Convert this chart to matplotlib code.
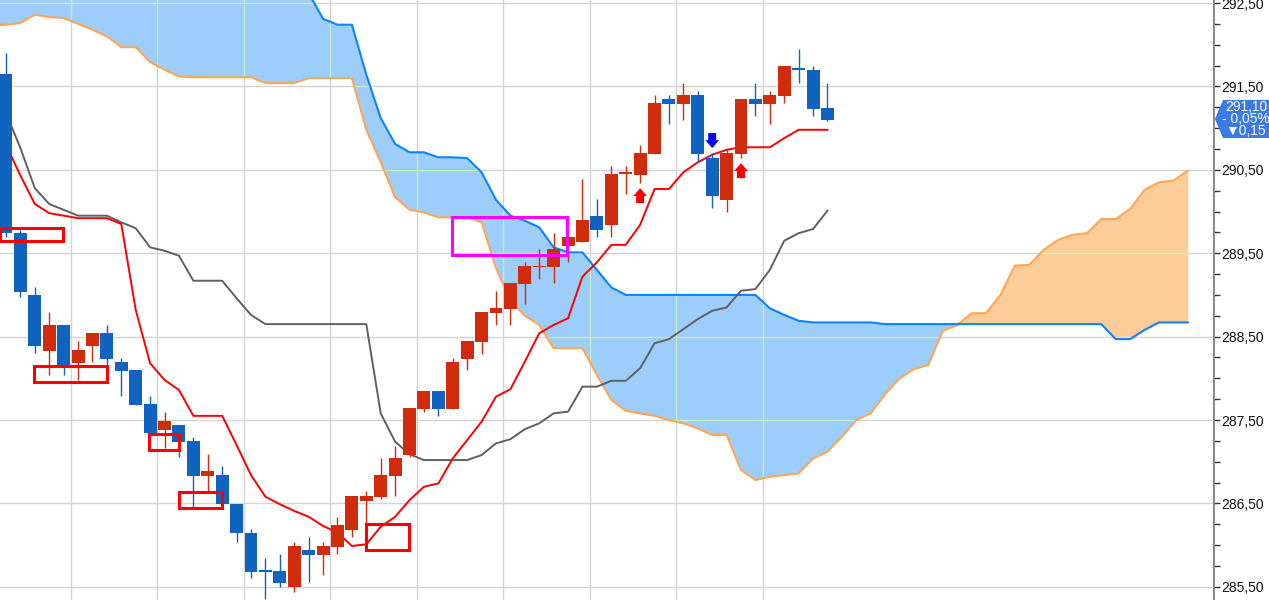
import numpy as np
import matplotlib
matplotlib.use("Agg")
import matplotlib.pyplot as plt
from matplotlib.patches import Rectangle, FancyArrow, Polygon
from matplotlib.path import Path
from matplotlib.ticker import MultipleLocator, FuncFormatter

plt.rcParams['font.family'] = ['Liberation Sans Narrow', 'Liberation Sans', 'DejaVu Sans']

# 캔들 데이터 (시가, 고가, 저가, 종가)
opens = [291.65, 289.74, 289.00, 288.33, 288.64, 288.18, 288.39, 288.54, 288.20, 288.10,
         287.69, 287.38, 287.44, 287.25, 286.83, 286.84, 286.49, 286.15, 285.69, 285.69,
         285.50, 285.94, 285.88, 285.98, 286.18, 286.53, 286.58, 286.83, 287.08, 287.63,
         287.85, 287.63, 288.23, 288.44, 288.78, 288.83, 289.13, 289.33, 289.33, 289.59,
         289.63, 289.95, 289.84, 290.45, 290.44, 290.69, 291.35, 291.29, 291.40, 290.64,
         290.14, 290.69, 291.35, 291.29, 291.38, 291.71, 291.70, 291.24]
highs = [291.90, 289.78, 289.09, 288.79, 288.64, 288.45, 288.54, 288.64, 288.24, 288.10,
         287.79, 287.60, 287.44, 287.30, 287.09, 286.95, 286.49, 286.19, 285.85, 285.89,
         286.04, 286.10, 286.04, 286.34, 286.59, 286.65, 287.04, 287.19, 287.64, 287.85,
         287.85, 288.24, 288.45, 288.80, 289.05, 289.14, 289.39, 289.55, 289.74, 289.69,
         290.39, 290.15, 290.55, 290.55, 290.80, 291.40, 291.40, 291.54, 291.45, 290.70,
         290.75, 291.35, 291.54, 291.45, 291.74, 291.95, 291.74, 291.54]
lows = [289.69, 288.97, 288.30, 288.04, 288.04, 287.98, 288.20, 288.16, 287.79, 287.68,
        287.34, 287.16, 287.06, 286.46, 286.64, 286.49, 286.04, 285.61, 285.35, 285.50,
        285.44, 285.56, 285.64, 285.89, 286.10, 285.98, 286.55, 286.59, 287.06, 287.60,
        287.55, 287.63, 288.10, 288.29, 288.64, 288.64, 288.89, 289.19, 289.14, 289.39,
        289.63, 289.69, 289.69, 290.21, 290.34, 290.69, 291.05, 291.10, 290.59, 290.04,
        289.99, 290.64, 291.14, 291.05, 291.30, 291.54, 291.14, 291.09]
closes = [289.74, 289.03, 288.39, 288.64, 288.16, 288.34, 288.54, 288.23, 288.09, 287.68,
          287.34, 287.49, 287.24, 286.83, 286.89, 286.49, 286.15, 285.68, 285.68, 285.55,
          285.99, 285.88, 285.99, 286.24, 286.59, 286.59, 286.84, 287.04, 287.64, 287.85,
          287.63, 288.20, 288.45, 288.80, 288.84, 289.14, 289.35, 289.35, 289.55, 289.69,
          289.90, 289.78, 290.45, 290.46, 290.70, 291.30, 291.29, 291.40, 290.69, 290.19,
          290.70, 291.35, 291.29, 291.40, 291.74, 291.70, 291.23, 291.10]

# 전환선 / 기준선
tenkan = [290.80, 290.43, 290.09, 289.98, 289.95, 289.92, 289.92, 289.92, 289.85, 288.82,
          288.18, 287.98, 287.86, 287.55, 287.55, 287.55, 287.20, 286.84, 286.58, 286.49,
          286.41, 286.34, 286.23, 286.15, 285.99, 286.01, 286.22, 286.34, 286.54, 286.70,
          286.74, 287.04, 287.26, 287.48, 287.78, 287.87, 288.20, 288.54, 288.64, 288.72,
          289.22, 289.39, 289.60, 289.60, 289.84, 290.27, 290.27, 290.47, 290.59, 290.68,
          290.74, 290.77, 290.77, 290.77, 290.88, 290.98, 290.98, 290.98]
kijun = [291.18, 290.76, 290.28, 290.09, 290.02, 289.95, 289.95, 289.95, 289.87, 289.80,
         289.57, 289.53, 289.47, 289.17, 289.17, 289.17, 288.96, 288.76, 288.65, 288.65,
         288.65, 288.65, 288.65, 288.65, 288.65, 288.65, 287.58, 287.24, 287.09, 287.02,
         287.02, 287.02, 287.02, 287.08, 287.22, 287.27, 287.39, 287.46, 287.58, 287.60,
         287.90, 287.90, 287.97, 287.97, 288.12, 288.42, 288.47, 288.59, 288.71, 288.81,
         288.85, 289.05, 289.07, 289.30, 289.65, 289.74, 289.79, 290.01]

# 선행스팬1 / 선행스팬2 (첫 값은 첫 봉 하나 앞)
span_a = [293.90,
          293.90, 293.90, 293.80, 293.80, 293.70, 293.60, 293.60, 293.50, 293.40, 293.40,
          293.30, 293.20, 293.20, 293.10, 293.00, 293.00, 292.90, 292.90, 292.80, 292.80,
          292.70, 292.62, 292.31, 292.24, 292.24, 291.64, 291.12, 290.81, 290.71, 290.71,
          290.65, 290.65, 290.64, 290.47, 290.14, 289.95, 289.89, 289.81, 289.57, 289.51,
          289.51, 289.30, 289.09, 289.00, 289.00, 289.00, 289.00, 289.00, 289.00, 289.00,
          289.00, 289.00, 289.00, 288.84, 288.76, 288.69, 288.67, 288.67, 288.67, 288.67,
          288.67, 288.65, 288.65, 288.65, 288.65, 288.65, 288.65, 288.65, 288.65, 288.65,
          288.65, 288.65, 288.65, 288.65, 288.65, 288.65, 288.65, 288.47, 288.47, 288.58,
          288.67, 288.67, 288.67]
span_b = [292.23,
          292.24, 292.26, 292.36, 292.33, 292.32, 292.25, 292.18, 292.10, 291.97, 291.97,
          291.79, 291.70, 291.62, 291.61, 291.61, 291.61, 291.61, 291.61, 291.54, 291.54,
          291.54, 291.60, 291.60, 291.60, 291.60, 290.98, 290.59, 290.17, 290.02, 289.99,
          289.93, 289.93, 289.93, 289.87, 289.32, 288.94, 288.75, 288.64, 288.36, 288.36,
          288.36, 288.04, 287.74, 287.61, 287.58, 287.55, 287.50, 287.46, 287.40, 287.32,
          287.32, 286.90, 286.78, 286.82, 286.84, 286.86, 287.04, 287.12, 287.30, 287.50,
          287.58, 287.81, 288.00, 288.11, 288.16, 288.57, 288.64, 288.78, 288.78, 289.00,
          289.35, 289.36, 289.54, 289.66, 289.72, 289.74, 289.91, 289.91, 290.03, 290.26,
          290.35, 290.37, 290.49]

price_ticks = [285.5, 286.5, 287.5, 288.5, 289.5, 290.5, 291.5, 292.5]
last_price = "291,10"
change_pct = "- 0,05%"
change_abs = "▼0,15"

# 표시 박스 (x0, x1, 하단, 상단)
red_boxes = [(-0.42, 3.96, 289.65, 289.80), (1.94, 7.01, 287.96, 288.15),
             (9.93, 12.01, 287.14, 287.33), (12.01, 15.0, 286.45, 286.64),
             (25.0, 27.99, 285.94, 286.25)]
magenta_box = (30.97, 38.96, 289.48, 289.93)
# 신호 화살표 (봉 번호, 꼬리, 머리, 색)
signals = [(44, 290.10, 290.28, '#ff0000'), (51, 290.40, 290.58, '#ff0000'),
           (49, 290.94, 290.76, '#0000ff')]

W, H = 1269, 600
fig = plt.figure(figsize=(W / 100, H / 100), dpi=100)
ax = fig.add_axes([0, 0, 1214 / W, 1])
ax.set_xlim(-0.417, 83.82)
ax.set_ylim(285.342, 292.536)

# 격자
grid_x = np.arange(4.5, 53, 6)
for y in price_ticks:
    ax.axhline(y, color='#d4d4d4', lw=1, zorder=0)
for x in grid_x:
    ax.axvline(x, color='#d4d4d4', lw=1, zorder=0)

# 구름대
xc = np.arange(len(span_a)) - 1
a = np.array(span_a)
b = np.array(span_b)
blue_fill = ax.fill_between(xc, a, b, where=a >= b, interpolate=True,
                            color='#9dcefb', lw=0, zorder=1)
orange_fill = ax.fill_between(xc, a, b, where=b > a, interpolate=True,
                              color='#fecc98', lw=0, zorder=1)
for fill, tint in ((blue_fill, '#c2ecc6'), (orange_fill, '#e6ecb6')):
    paths = fill.get_paths()
    if not paths:
        continue
    clip = Path.make_compound_path(*paths)
    for y in price_ticks:
        ln = ax.axhline(y, color=tint, lw=1, zorder=1.5)
        ln.set_clip_path(clip, ax.transData)
    for x in grid_x:
        ln = ax.axvline(x, color=tint, lw=1, zorder=1.5)
        ln.set_clip_path(clip, ax.transData)

ax.plot(xc, span_b, color='#ffa656', lw=1.5, zorder=2)
ax.plot(xc, span_a, color='#0a84ff', lw=1.5, zorder=2)

# 전환선, 기준선
idx = np.arange(len(opens))
ax.plot(idx, kijun, color='#606060', lw=1.4, zorder=3)
ax.plot(idx, tenkan, color='#ff0000', lw=1.4, zorder=3)

# 캔들
o = np.array(opens)
c = np.array(closes)
colors = np.where(c >= o, '#d02c0c', '#1063bf')
body = np.maximum(np.abs(c - o), 0.02)
ax.vlines(idx, lows, highs, colors=colors, lw=1.0, zorder=4)
ax.bar(idx, body, bottom=np.minimum(o, c), width=0.9, color=colors, lw=0, zorder=4.1)

# 표시
for x0, x1, y0, y1 in red_boxes:
    ax.add_patch(Rectangle((x0, y0), x1 - x0, y1 - y0, fill=False,
                           ec='#ff0000', lw=2.2, zorder=6))
x0, x1, y0, y1 = magenta_box
ax.add_patch(Rectangle((x0, y0), x1 - x0, y1 - y0, fill=False,
                       ec='#ff00ff', lw=2.2, zorder=6))
for i, tail, tip, col in signals:
    ax.add_patch(FancyArrow(i, tail, 0, tip - tail, width=0.55, head_width=0.95,
                            head_length=0.095, length_includes_head=True,
                            color=col, lw=0, zorder=6))

# 오른쪽 가격축
for s in ('top', 'left', 'bottom'):
    ax.spines[s].set_visible(False)
ax.spines['right'].set_color('#8a8a8a')
ax.spines['right'].set_linewidth(1.5)
ax.set_xticks([])
ax.yaxis.tick_right()
ax.yaxis.set_minor_locator(MultipleLocator(0.25))
ax.yaxis.set_major_formatter(FuncFormatter(lambda v, p: f"{v:.2f}".replace('.', ',')))
ax.set_yticks(price_ticks)
ax.tick_params(axis='y', which='both', direction='out', length=4, width=1,
               color='#333333', labelsize=10, pad=1, labelcolor='#111111')

# 현재가 태그
tag = [(1215, 119), (1223, 100), (1269, 100), (1269, 138), (1223, 138)]
fig.patches.append(Polygon([(px / W, 1 - py / H) for px, py in tag], closed=True,
                           transform=fig.transFigure, fc='#3a7be4', ec='none'))
for k, t in enumerate([last_price, change_pct, change_abs]):
    fig.text(1246 / W, 1 - (107 + 12 * k) / H, t, color='white', fontsize=10,
             ha='center', va='center')

fig.savefig('out.png', dpi=100)
